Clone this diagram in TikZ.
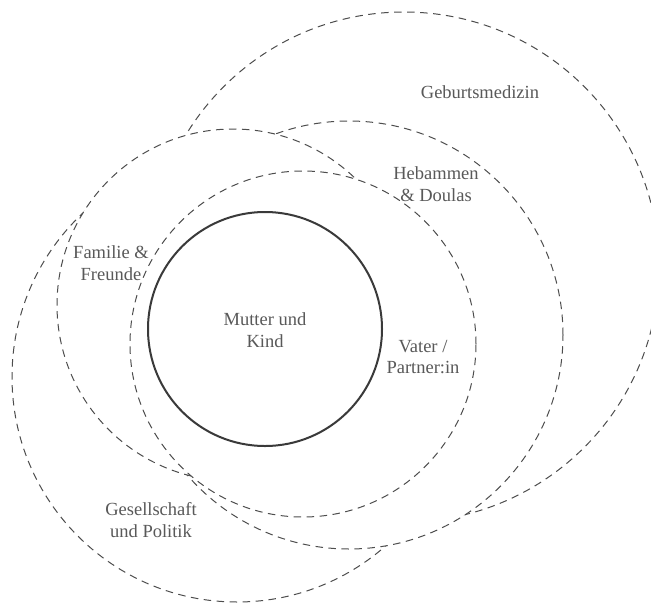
\documentclass[tikz,border=0pt]{standalone}
\usepackage{fontspec}
\setmainfont{Liberation Serif}
\definecolor{ringcol}{HTML}{4D4D4D}
\definecolor{corecol}{HTML}{3A3A3A}
\definecolor{txtcol}{HTML}{595959}
\begin{document}
\begin{tikzpicture}[x=1pt,y=-1pt,
  ring/.style={circle, draw=ringcol, line width=1pt, dash pattern=on 7.5pt off 5.5pt, fill=white, inner sep=0pt, outer sep=0pt},
  core/.style={circle, draw=corecol, line width=2pt, fill=white, inner sep=0pt, outer sep=0pt},
  lbl/.style={font=\fontsize{18.5}{21.5}\selectfont, text=txtcol, align=center, inner sep=0pt}]
\clip (0,0) rectangle (651,603);
\fill[white] (0,0) rectangle (651,603);
% back to front
\node[ring, minimum size=510pt] (geb) at (404,267) {};
\node[ring, minimum size=450pt] (ges) at (237,377) {};
\node[ring, minimum size=428pt] (heb) at (349,335) {};
\node[ring, minimum size=352pt] (fam) at (233,305) {};
\node[ring, minimum size=346pt] (vat) at (303,344) {};
\node[core, minimum size=234pt] (mut) at (265,329) {};
% labels
\node[lbl] (lmut) at (265,330) {Mutter und\\Kind};
\node[lbl] (lvat) at (423,357) {Vater /\\Partner:in};
\node[lbl] (lfam) at (111,263) {Familie \&\\Freunde};
\node[lbl] (lheb) at (436,184) {Hebammen\\\& Doulas};
\node[lbl] (lgeb) at (480,92) {Geburtsmedizin};
\node[lbl] (lges) at (151,520) {Gesellschaft\\und Politik};
\end{tikzpicture}
\end{document}
